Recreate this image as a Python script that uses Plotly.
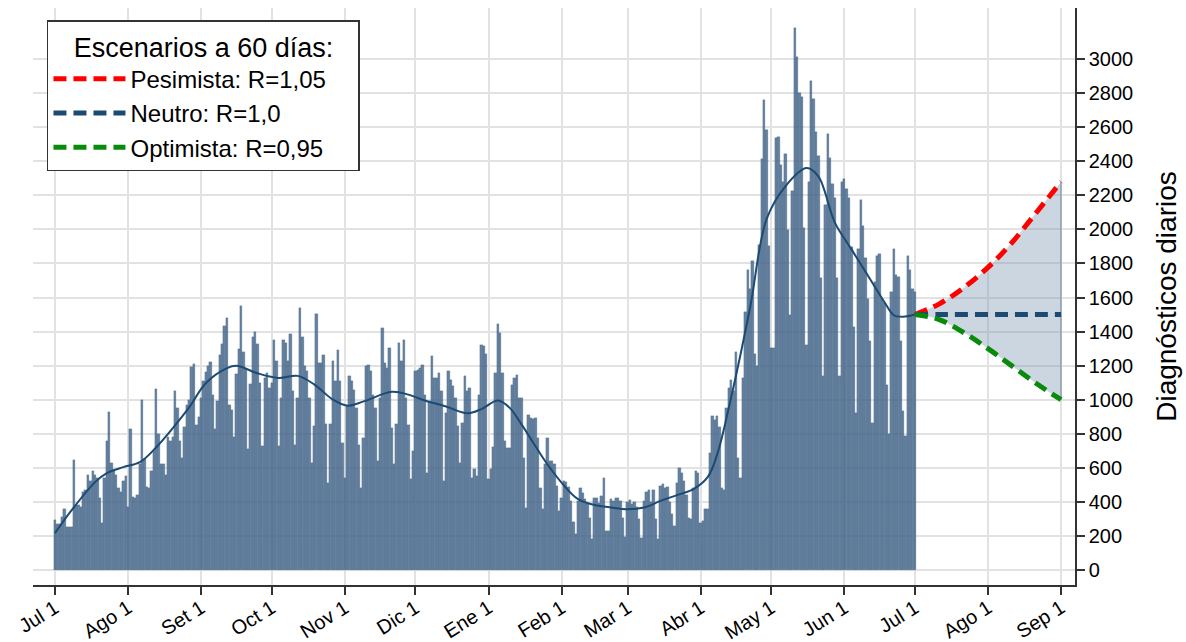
import pandas as pd
import plotly.graph_objects as go

# ---------------- Daily diagnoses ----------------
jul_2020 = [293, 270, 270, 310, 360, 250, 250, 250, 646, 380, 380, 370, 460, 470, 560, 520,
            580, 560, 540, 420, 275, 540, 760, 930, 630, 590, 560, 480, 460, 520, 550]
aug_2020 = [370, 830, 430, 420, 440, 620, 1000, 650, 490, 480, 580, 700, 1060, 800, 620, 620,
            560, 780, 760, 780, 1050, 950, 760, 660, 840, 970, 1000, 1190, 1210, 850, 900]
sep_2020 = [1010, 1110, 1160, 1200, 1220, 1030, 830, 990, 1260, 1330, 1430, 1480, 970, 940, 780,
            1150, 1300, 1550, 1280, 1180, 710, 1090, 1370, 1400, 1330, 1100, 730, 1130, 1157, 1069]
oct_2020 = [1100, 1352, 1225, 728, 1010, 1352, 1332, 1225, 1385, 1050, 737, 1010, 1541, 1371, 1196,
            1167, 1010, 630, 845, 1502, 1215, 1215, 1264, 855, 513, 855, 1229, 1108, 1293, 1108, 747]
nov_2020 = [542, 971, 1137, 1108, 1059, 952, 737, 484, 776, 1196, 1202, 1170, 1030, 952, 640,
            1010, 1424, 1215, 1186, 1303, 835, 620, 855, 1332, 1225, 1352, 1010, 850, 533, 700]
dec_2020 = [1167, 1176, 1186, 1206, 1030, 572, 991, 1255, 1128, 1128, 1157, 1050, 523, 923, 1167,
            1118, 1079, 1010, 845, 630, 864, 1137, 1050, 1069, 542, 591, 552, 1030, 1323, 1313, 1270]
jan_2021 = [533, 591, 720, 1157, 1444, 1391, 1157, 757, 718, 718, 1089, 1128, 1147, 1011, 1011,
            659, 367, 913, 893, 884, 893, 777, 484, 357, 620, 777, 640, 640, 620, 494, 347]
feb_2021 = [425, 523, 515, 485, 405, 280, 211, 405, 484, 455, 415, 385, 307, 181,
            425, 425, 395, 435, 542, 230, 230, 415, 405, 425, 425, 405, 308, 191]
mar_2021 = [400, 410, 390, 400, 370, 300, 190, 405, 460, 470, 400, 470, 300, 180, 494, 505,
            480, 490, 400, 330, 260, 513, 601, 572, 523, 440, 308, 298, 484, 584, 570]
apr_2021 = [277, 290, 359, 359, 687, 902, 880, 902, 840, 482, 472, 953, 1066, 1117, 1050,
            1281, 656, 543, 1127, 1517, 1763, 1650, 1814, 1271, 1199, 1907, 2413, 2757, 2583, 1900]
may_2021 = [1302, 1302, 2536, 2542, 2378, 2276, 2440, 1999, 1497, 2224, 3180, 3014, 2798, 2778,
            2009, 1322, 2276, 2870, 2768, 2573, 2429, 1712, 1138, 2142, 2563, 2419, 2265, 2183,
            1712, 1138, 2276]
jun_2021 = [2296, 2235, 2183, 1896, 1425, 922, 1886, 2173, 2019, 1834, 1589, 1343, 861, 1691,
            1845, 1855, 1589, 1568, 1087, 800, 1630, 1886, 1732, 1720, 1343, 933, 789, 1845,
            1763, 1650]
jul_2021 = [1630]

daily = (jul_2020 + aug_2020 + sep_2020 + oct_2020 + nov_2020 + dec_2020 + jan_2021 +
         feb_2021 + mar_2021 + apr_2021 + may_2021 + jun_2021 + jul_2021)
daily_dates = pd.date_range("2020-07-01", periods=len(daily), freq="D")

# ---------------- Smoothed trend ----------------
trend_dates = ["2020-07-01", "2020-07-08", "2020-07-18", "2020-07-23", "2020-07-30", "2020-08-06",
               "2020-08-13", "2020-08-20", "2020-08-27", "2020-09-03", "2020-09-12", "2020-09-16",
               "2020-09-25", "2020-10-04", "2020-10-12", "2020-10-19", "2020-10-27", "2020-11-02",
               "2020-11-09", "2020-11-21", "2020-11-28", "2020-12-05", "2020-12-14", "2020-12-23",
               "2020-12-29", "2021-01-05", "2021-01-10", "2021-01-15", "2021-01-20", "2021-01-25",
               "2021-02-01", "2021-02-08", "2021-02-15", "2021-02-22", "2021-03-01", "2021-03-08",
               "2021-03-15", "2021-03-22", "2021-03-29", "2021-04-04", "2021-04-08", "2021-04-14",
               "2021-04-22", "2021-04-29", "2021-05-07", "2021-05-16", "2021-05-21", "2021-05-28",
               "2021-06-04", "2021-06-11", "2021-06-18", "2021-06-22", "2021-06-26", "2021-07-01"]
trend_values = [217, 350, 516, 569, 604, 633, 721, 833, 956, 1097, 1185, 1199, 1155, 1128, 1140,
                1090, 1000, 965, 990, 1046, 1030, 995, 960, 920, 945, 995, 952, 855, 747, 640,
                513, 416, 382, 367, 357, 367, 406, 440, 475, 545, 676, 1015, 1540, 2060, 2253,
                2360, 2311, 2040, 1884, 1729, 1574, 1496, 1487, 1500]

# ---------------- 60-day scenarios ----------------
proj_dates = ["2021-07-01", "2021-07-11", "2021-07-21", "2021-08-01", "2021-08-11", "2021-08-21",
              "2021-09-01"]
pesimista = [1500, 1560, 1650, 1777, 1920, 2090, 2280]
neutro = [1500, 1500, 1500, 1500, 1500, 1500, 1500]
optimista = [1500, 1472, 1400, 1300, 1200, 1100, 1000]

scenario_names = ["Pesimista: R=1,05", "Neutro: R=1,0", "Optimista: R=0,95"]
legend_title = "Escenarios a 60 días:"

tick_dates = ["2020-07-01", "2020-08-01", "2020-09-01", "2020-10-01", "2020-11-01", "2020-12-01",
              "2021-01-01", "2021-02-01", "2021-03-01", "2021-04-01", "2021-05-01", "2021-06-01",
              "2021-07-01", "2021-08-01", "2021-09-01"]
tick_labels = ["Jul 1", "Ago 1", "Set 1", "Oct 1", "Nov 1", "Dic 1", "Ene 1", "Feb 1", "Mar 1",
               "Abr 1", "May 1", "Jun 1", "Jul 1", "Ago 1", "Sep 1"]
y_ticks = list(range(0, 3001, 200))

FONT = "Liberation Sans, Arial, Helvetica, sans-serif"
PAD = "\u00a0" * 4  # widens the legend box like the reference
fig = go.Figure()

fig.add_trace(go.Bar(x=daily_dates, y=daily, marker=dict(color="rgba(72,106,142,0.84)",
                     line=dict(width=0.3, color="rgba(60,90,120,0.9)")),
                     showlegend=False, hoverinfo="x+y"))
fig.add_trace(go.Scatter(x=trend_dates, y=trend_values, mode="lines", line_shape="spline",
                         line=dict(color="#1c4a72", width=2), showlegend=False))

# shaded band between pessimistic and optimistic scenarios
fig.add_trace(go.Scatter(x=proj_dates, y=optimista, mode="lines", line_shape="spline",
                         line=dict(width=0, color="rgba(0,0,0,0)"), showlegend=False,
                         hoverinfo="skip"))
fig.add_trace(go.Scatter(x=proj_dates, y=pesimista, mode="lines", line_shape="spline",
                         line=dict(width=0, color="rgba(0,0,0,0)"), fill="tonexty",
                         fillcolor="rgba(120,148,176,0.38)", showlegend=False, hoverinfo="skip"))
fig.add_trace(go.Scatter(x=[proj_dates[-1], proj_dates[-1]], y=[optimista[-1], pesimista[-1]],
                         mode="lines", line=dict(color="rgba(110,135,160,0.8)", width=1.2),
                         showlegend=False, hoverinfo="skip"))

dash = "13px,7px"
for name, vals, col, grp in zip(scenario_names, [pesimista, neutro, optimista],
                                ["#ff0000", "#1c4a72", "#0a8a0a"], ["a", "b", "c"]):
    fig.add_trace(go.Scatter(x=proj_dates, y=vals, mode="lines", line_shape="spline",
                             line=dict(color=col, width=5, dash=dash),
                             name=name + PAD, legendgroup=grp))

fig.update_layout(
    width=1186, height=642,
    margin=dict(l=33, r=111, t=8, b=57),
    paper_bgcolor="white", plot_bgcolor="white",
    font=dict(family=FONT, color="black", size=20),
    bargap=0,
    legend=dict(x=0.0134, y=0.979, xanchor="left", yanchor="top", bgcolor="white",
                bordercolor="#333333", borderwidth=1.5, font=dict(size=24),
                title=dict(text=legend_title, font=dict(size=27), side="top center"),
                itemwidth=72, tracegroupgap=12, traceorder="normal"),
)
fig.update_xaxes(type="date", range=["2020-06-21 16:00", "2021-09-06 22:00"],
                 tickvals=tick_dates, ticktext=tick_labels, tickangle=-32,
                 showgrid=True, gridcolor="#e2e2e2", gridwidth=1.5,
                 showline=True, linecolor="#333333", linewidth=1.5,
                 ticks="outside", ticklen=8, tickcolor="#333333", tickwidth=1.5,
                 tickfont=dict(size=20), zeroline=False, automargin=False,
                 ticklabelstandoff=-6)
fig.update_yaxes(side="right", range=[-88, 3300], tickvals=y_ticks,
                 ticktext=[str(v) for v in y_ticks],
                 showgrid=True, gridcolor="#e2e2e2", gridwidth=1.5,
                 showline=True, linecolor="#333333", linewidth=1.5,
                 ticks="outside", ticklen=8, tickcolor="#333333", tickwidth=1.5,
                 tickfont=dict(size=20), zeroline=False, automargin=False,
                 title=dict(text="Diagnósticos diarios", font=dict(size=28), standoff=24))

fig.write_html("out.html", config={"displayModeBar": False},
               post_script="document.body.style.margin='0';")
